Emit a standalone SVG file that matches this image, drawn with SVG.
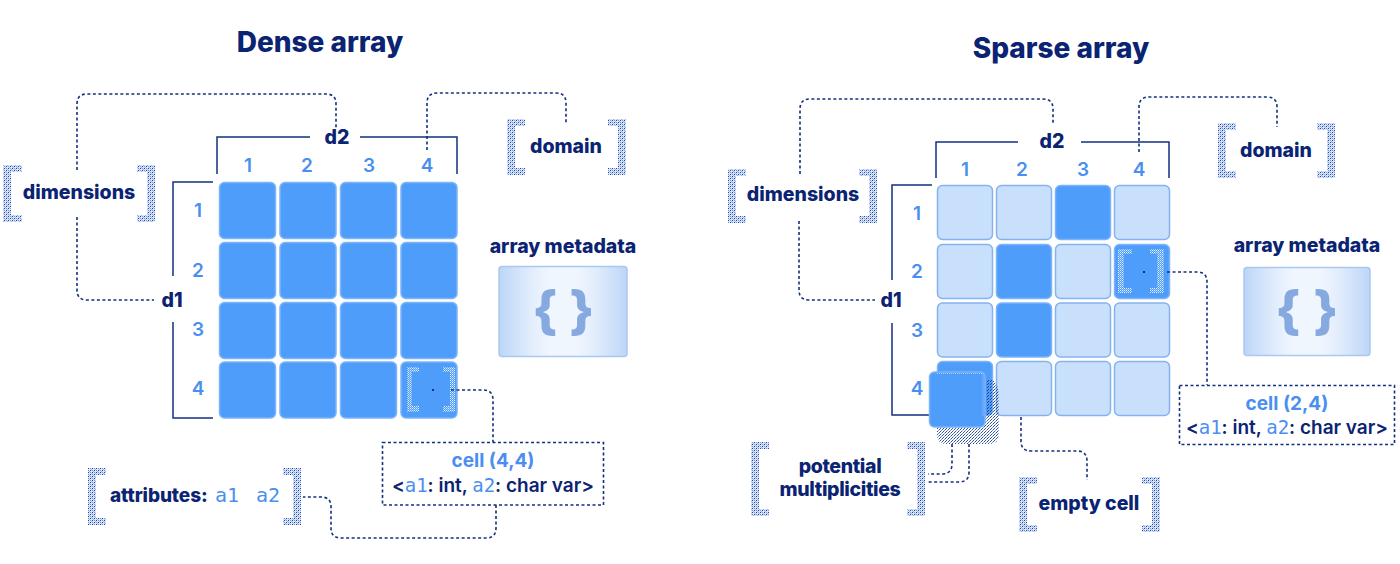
<svg xmlns="http://www.w3.org/2000/svg" width="1400" height="564" viewBox="0 0 1400 564">
<style>
.title{font-family:Inter,"Noto Sans",sans-serif;font-weight:800;font-size:28px;fill:#0b2373;text-anchor:middle}
.lbl{font-family:Inter,"Noto Sans",sans-serif;font-weight:800;font-size:19.5px;fill:#0b2373;text-anchor:middle}
.tight{letter-spacing:-0.35px}
.num{font-family:Inter,"Noto Sans",sans-serif;font-weight:600;font-size:19px;fill:#4a8ff0;text-anchor:middle}
.cellt{font-family:Inter,"Noto Sans",sans-serif;font-weight:700;font-size:19px;fill:#4a8ff0;text-anchor:middle}
.cellb{font-family:Inter,"Noto Sans",sans-serif;font-weight:600;font-size:19px;fill:#0b2373;text-anchor:middle}
.mono{font-family:"DejaVu Sans Mono","Liberation Mono",monospace;font-weight:400;fill:#4a8ff0}
.dk{fill:#4f9dfb;stroke:#7cb4fa;stroke-width:1.5}
.lt{fill:#c8e0fc;stroke:#86b2ee;stroke-width:1.5}
.axis{fill:none;stroke:#13307f;stroke-width:1.5}
.conn{fill:none;stroke:#13307f;stroke-width:1.6;stroke-dasharray:3 2.5}
.br{fill:url(#dith)}
.cbr{fill:url(#wdith)}
.meta{fill:url(#metag);stroke:#a9c8f2;stroke-width:1.5}
.brace{font-family:Inter,"Noto Sans",sans-serif;font-weight:800;font-size:52px;fill:#86aadf;text-anchor:middle}
.box{fill:#fff;stroke:#13307f;stroke-width:1.6;stroke-dasharray:3 2.5}
</style>
<defs>
<pattern id="dith" width="4" height="4" patternUnits="userSpaceOnUse">
<rect width="4" height="4" fill="#dbe5f7"/>
<rect x="0" y="0" width="1" height="1" fill="#24449c"/>
<rect x="2" y="2" width="1" height="1" fill="#24449c"/>
<rect x="2" y="0" width="1" height="1" fill="#6f98e4"/>
<rect x="0" y="2" width="1" height="1" fill="#6f98e4"/>
<rect x="1" y="3" width="1" height="1" fill="#9bb8ec"/>
<rect x="3" y="1" width="1" height="1" fill="#9bb8ec"/>
</pattern>
<pattern id="wdith" width="2" height="2" patternUnits="userSpaceOnUse">
<rect x="0" y="0" width="1" height="1" fill="#ffffff" opacity="0.85"/>
<rect x="1" y="1" width="1" height="1" fill="#dbeafe" opacity="0.6"/>
</pattern>
<pattern id="shad" width="3" height="3" patternUnits="userSpaceOnUse">
<rect x="0" y="0" width="1" height="1" fill="#13307f"/>
<rect x="2" y="1" width="1" height="1" fill="#4f86e0"/>
<rect x="1" y="2" width="1" height="1" fill="#13307f"/>
</pattern>
<linearGradient id="metag" x1="0" y1="0" x2="1" y2="0">
<stop offset="0" stop-color="#bcd6f7"/>
<stop offset="0.25" stop-color="#e2edfc"/>
<stop offset="0.4" stop-color="#f0f6fe"/>
<stop offset="0.6" stop-color="#f0f6fe"/>
<stop offset="0.75" stop-color="#e2edfc"/>
<stop offset="1" stop-color="#bcd6f7"/>
</linearGradient>
</defs>
<rect width="1400" height="564" fill="#ffffff"/>

<!-- ========== DENSE ========== -->
<text class="title" x="320" y="52">Dense array</text>

<g id="dense-d2">
<path class="axis" d="M217,174 V137 H310 M360,137 H457 V174"/>
<text class="lbl" x="337" y="144">d2</text>
<text class="num" x="248" y="172">1</text>
<text class="num" x="307" y="172">2</text>
<text class="num" x="369" y="172">3</text>
<text class="num" x="427" y="172">4</text>
</g>
<g id="dense-d1">
<path class="axis" d="M213,182 H173 V276 M173,322 V418 H213"/>
<text class="lbl" x="172" y="307">d1</text>
<text class="num" x="198" y="217">1</text>
<text class="num" x="198" y="277">2</text>
<text class="num" x="198" y="336">3</text>
<text class="num" x="198" y="395">4</text>
</g>
<g id="dense-grid">
<rect class="dk" x="219.5" y="182.5" width="56" height="56" rx="5"/>
<rect class="dk" x="280" y="182.5" width="56" height="56" rx="5"/>
<rect class="dk" x="340.5" y="182.5" width="56" height="56" rx="5"/>
<rect class="dk" x="401" y="182.5" width="56" height="56" rx="5"/>
<rect class="dk" x="219.5" y="242.5" width="56" height="56" rx="5"/>
<rect class="dk" x="280" y="242.5" width="56" height="56" rx="5"/>
<rect class="dk" x="340.5" y="242.5" width="56" height="56" rx="5"/>
<rect class="dk" x="401" y="242.5" width="56" height="56" rx="5"/>
<rect class="dk" x="219.5" y="302.5" width="56" height="56" rx="5"/>
<rect class="dk" x="280" y="302.5" width="56" height="56" rx="5"/>
<rect class="dk" x="340.5" y="302.5" width="56" height="56" rx="5"/>
<rect class="dk" x="401" y="302.5" width="56" height="56" rx="5"/>
<rect class="dk" x="219.5" y="362" width="56" height="56" rx="5"/>
<rect class="dk" x="280" y="362" width="56" height="56" rx="5"/>
<rect class="dk" x="340.5" y="362" width="56" height="56" rx="5"/>
<rect class="dk" x="401" y="362" width="56" height="56" rx="5"/>
</g>
<g id="dense-cell44">
<path class="cbr" d="M407,367 H419 V372 H412 V406 H419 V412 H407 Z"/>
<path class="cbr" d="M455,367 H443 V372 H450 V406 H443 V412 H455 Z"/>
<rect x="432" y="389" width="2" height="2" fill="#13307f"/>
</g>
<g id="dense-dimensions">
<path class="br" d="M3,165 H22 V172 H11 V215 H22 V222 H3 Z"/>
<path class="br" d="M155,165 H137 V172 H147 V215 H137 V222 H155 Z"/>
<text class="lbl" x="79" y="199">dimensions</text>
</g>
<g id="dense-domain">
<path class="br" d="M507,119 H525 V126 H515 V168 H525 V175 H507 Z"/>
<path class="br" d="M626,119 H608 V126 H618 V168 H608 V175 H626 Z"/>
<text class="lbl" x="566" y="153">domain</text>
</g>
<g id="dense-metadata">
<text class="lbl" x="563" y="253">array metadata</text>
<rect class="meta" x="499" y="266.5" width="128" height="90" rx="3"/>
<text class="brace" x="545" y="329">{</text>
<text class="brace" x="582" y="329">}</text>
</g>
<g id="dense-cellbox">
<rect class="box" x="382.5" y="442.5" width="221" height="62.5"/>
<text class="cellt" x="493" y="467">cell (4,4)</text>
<text class="cellb" x="493" y="492">&lt;<tspan class="mono">a1</tspan>: int, <tspan class="mono">a2</tspan>: char var&gt;</text>
</g>
<g id="dense-attributes">
<path class="br" d="M88,468 H106 V475 H96 V518 H106 V525 H88 Z"/>
<path class="br" d="M301,468 H283 V475 H293 V518 H283 V525 H301 Z"/>
<text class="lbl" x="110" y="502" style="text-anchor:start;font-size:19px;letter-spacing:-0.1px">attributes:</text>
<text class="mono" x="215" y="502" font-size="20">a1</text>
<text class="mono" x="256" y="502" font-size="20">a2</text>
</g>
<g id="dense-connectors">
<path class="conn" d="M77,170 V104 Q77,94 87,94 H326 Q336,94 336,104 V128"/>
<path class="conn" d="M77,217 V290 Q77,300 87,300 H154"/>
<path class="conn" d="M427,150 V103 Q427,93 437,93 H556 Q566,93 566,103 V123"/>
<path class="conn" d="M451,390 H483 Q493,390 493,400 V442"/>
<path class="conn" d="M496,505 V528 Q496,538 486,538 H341 Q331,538 331,528 V507 Q331,497 321,497 H303"/>
</g>

<!-- ========== SPARSE ========== -->
<text class="title" x="1061" y="58">Sparse array</text>

<g id="sparse-d2">
<path class="axis" d="M936,178 V142 H1018 M1081,142 H1169 V178"/>
<text class="lbl" x="1052" y="148">d2</text>
<text class="num" x="965" y="176">1</text>
<text class="num" x="1022" y="176">2</text>
<text class="num" x="1083" y="176">3</text>
<text class="num" x="1139" y="176">4</text>
</g>
<g id="sparse-d1">
<path class="axis" d="M932,185 H892 V280 M892,323 V415 H930"/>
<text class="lbl" x="891" y="307">d1</text>
<text class="num" x="917" y="220">1</text>
<text class="num" x="917" y="278">2</text>
<text class="num" x="917" y="337">3</text>
<text class="num" x="917" y="395">4</text>
</g>
<g id="sparse-grid">
<rect class="lt" x="937.5" y="185.5" width="55" height="54" rx="5"/>
<rect class="lt" x="996.5" y="185.5" width="55" height="54" rx="5"/>
<rect class="dk" x="1055.5" y="185.5" width="55" height="54" rx="5"/>
<rect class="lt" x="1114.5" y="185.5" width="55" height="54" rx="5"/>
<rect class="lt" x="937.5" y="244.5" width="55" height="54" rx="5"/>
<rect class="dk" x="996.5" y="244.5" width="55" height="54" rx="5"/>
<rect class="lt" x="1055.5" y="244.5" width="55" height="54" rx="5"/>
<rect class="dk" x="1114.5" y="244.5" width="55" height="54" rx="5"/>
<rect class="lt" x="937.5" y="303" width="55" height="54" rx="5"/>
<rect class="dk" x="996.5" y="303" width="55" height="54" rx="5"/>
<rect class="lt" x="1055.5" y="303" width="55" height="54" rx="5"/>
<rect class="lt" x="1114.5" y="303" width="55" height="54" rx="5"/>
<rect class="dk" x="937.5" y="361.5" width="55" height="54" rx="5"/>
<rect class="lt" x="996.5" y="361.5" width="55" height="54" rx="5"/>
<rect class="lt" x="1055.5" y="361.5" width="55" height="54" rx="5"/>
<rect class="lt" x="1114.5" y="361.5" width="55" height="54" rx="5"/>
</g>
<g id="sparse-multiplicity">
<path fill="url(#shad)" opacity="0.85" d="M937,412 H986 V380 H993 Q999,386 999,395 V434 Q999,444 989,444 H947 Q937,444 937,434 Z"/>
<rect class="dk" x="929.5" y="372" width="55.5" height="55" rx="5"/>
<path d="M937,373.5 H983 V416" fill="none" stroke="#a7cbfb" stroke-width="1" stroke-dasharray="1 1"/>
</g>
<g id="sparse-cell24">
<path class="cbr" d="M1118,249 H1132 V254 H1124 V288 H1132 V293 H1118 Z"/>
<path class="cbr" d="M1164,249 H1150 V254 H1157 V288 H1150 V293 H1164 Z"/>
<rect x="1143" y="271" width="2" height="2" fill="#13307f"/>
</g>
<g id="sparse-dimensions">
<path class="br" d="M728,169 H746 V176 H736 V216 H746 V223 H728 Z"/>
<path class="br" d="M877,169 H859 V176 H869 V216 H859 V223 H877 Z"/>
<text class="lbl" x="803" y="201">dimensions</text>
</g>
<g id="sparse-domain">
<path class="br" d="M1218,123 H1236 V130 H1226 V171 H1236 V178 H1218 Z"/>
<path class="br" d="M1335,123 H1317 V130 H1327 V171 H1317 V178 H1335 Z"/>
<text class="lbl" x="1276" y="157">domain</text>
</g>
<g id="sparse-metadata">
<text class="lbl" x="1307" y="252">array metadata</text>
<rect class="meta" x="1244" y="267.5" width="126" height="88" rx="3"/>
<text class="brace" x="1288" y="329">{</text>
<text class="brace" x="1326" y="329">}</text>
</g>
<g id="sparse-cellbox">
<rect class="box" x="1179.5" y="385.5" width="215" height="59"/>
<text class="cellt" x="1287" y="410">cell (2,4)</text>
<text class="cellb" x="1287" y="434">&lt;<tspan class="mono">a1</tspan>: int, <tspan class="mono">a2</tspan>: char var&gt;</text>
</g>
<g id="sparse-multiplicities-label">
<path class="br" d="M751,442 H769 V449 H759 V509 H769 V516 H751 Z"/>
<path class="br" d="M925,442 H907 V449 H917 V509 H907 V516 H925 Z"/>
<text class="lbl tight" x="840" y="473">potential</text>
<text class="lbl tight" x="840" y="496">multiplicities</text>
</g>
<g id="sparse-emptycell">
<path class="br" d="M1019,477 H1037 V484 H1027 V525 H1037 V532 H1019 Z"/>
<path class="br" d="M1160,477 H1142 V484 H1152 V525 H1142 V532 H1160 Z"/>
<text class="lbl" x="1089" y="510">empty cell</text>
</g>
<g id="sparse-connectors">
<path class="conn" d="M800,174 V109 Q800,99 810,99 H1043 Q1053,99 1053,109 V125"/>
<path class="conn" d="M799,221 V290 Q799,300 809,300 H875"/>
<path class="conn" d="M1139,152 V107 Q1139,97 1149,97 H1267 Q1277,97 1277,107 V127"/>
<path class="conn" d="M1167,272 H1197 Q1207,272 1207,282 V385"/>
<path class="conn" d="M952,444 V464 Q952,474 942,474 H928"/>
<path class="conn" d="M969,444 V472 Q969,482 959,482 H926"/>
<path class="conn" d="M1021,417 V441 Q1021,451 1031,451 H1077 Q1087,451 1087,461 V480"/>
</g>
</svg>
